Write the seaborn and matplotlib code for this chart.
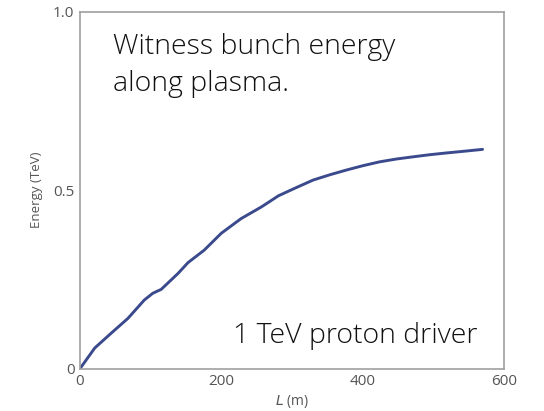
import matplotlib
matplotlib.use("Agg")
import matplotlib.pyplot as plt
import seaborn as sns
import pandas as pd

# curve
length_m = [0, 21, 44, 68, 91, 103, 115, 139, 153, 176, 200, 228, 257, 281, 304,
            330, 354, 377, 400, 424, 448, 471, 495, 519, 545, 570]
energy_tev = [0, 0.058, 0.099, 0.141, 0.192, 0.211, 0.222, 0.267, 0.297, 0.332, 0.379,
              0.42, 0.453, 0.484, 0.505, 0.528, 0.543, 0.556, 0.568, 0.579, 0.587,
              0.593, 0.599, 0.604, 0.609, 0.614]

df = pd.DataFrame({"L": length_m, "E": energy_tev})

sns.set_style("white")
plt.rcParams['font.family'] = ['Open Sans', 'DejaVu Sans']

fig = plt.figure(figsize=(5.44, 4.11), dpi=100)
ax = fig.add_axes([0.147, 0.103, 0.779, 0.869])

sns.lineplot(data=df, x="L", y="E", ax=ax, color="#3b4a8c", linewidth=2.1)

ax.set_xlim(0, 600)
ax.set_ylim(0, 1.0)
ax.set_xticks([0, 200, 400, 600])
ax.set_xticks([100, 300, 500], minor=True)
ax.set_yticks([0, 0.5, 1.0])
ax.set_yticklabels(["0", "0.5", "1.0"])
ax.set_yticks([0.1, 0.2, 0.3, 0.4, 0.6, 0.7, 0.8, 0.9], minor=True)
ax.tick_params(which="both", direction="in", length=5, width=1, color="#999999",
               labelsize=11, labelcolor="#555555", pad=4)
for s in ax.spines.values():
    s.set_color("#a0a0a0")
    s.set_linewidth(1.2)

ax.set_xlabel(r"$L$ (m)", fontsize=10, color="#555555", labelpad=3)
ax.set_ylabel("Energy (TeV)", fontsize=9.5, color="#555555", labelpad=7)

ax.text(0.078, 0.94, "Witness bunch energy\nalong plasma.", transform=ax.transAxes,
        fontsize=20.5, color="#111111", va="top", ha="left", linespacing=1.45,
        fontweight="light")
ax.text(0.937, 0.091, "1 TeV proton driver", transform=ax.transAxes,
        fontsize=20.5, color="#111111", va="center", ha="right", fontweight="light")

fig.savefig("out.png", dpi=100)
